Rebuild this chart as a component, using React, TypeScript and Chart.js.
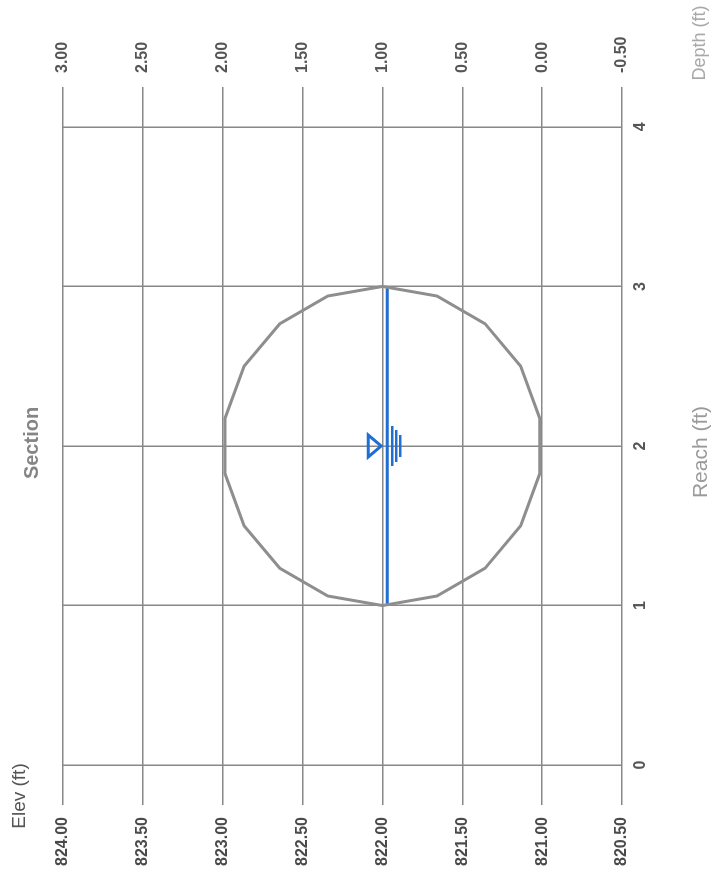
import React, { useEffect, useRef } from "react";
import { Chart, registerables } from "chart.js";

Chart.register(...registerables);

// ---- data ----
const reachTicks = [0, 1, 2, 3, 4];
const elevTicks = [820.5, 821.0, 821.5, 822.0, 822.5, 823.0, 823.5, 824.0];
const depthTicks = [-0.5, 0.0, 0.5, 1.0, 1.5, 2.0, 2.5, 3.0];

// pipe section outline (reach ft, elev ft)
const circleReach = [
  3.0, 2.94, 2.766, 2.5, 2.174, 1.826, 1.5, 1.234, 1.06, 1.0,
  1.06, 1.234, 1.5, 1.826, 2.174, 2.5, 2.766, 2.94, 3.0,
];
const circleElev = [
  822.0, 822.342, 822.643, 822.866, 822.985, 822.985, 822.866, 822.643, 822.342, 822.0,
  821.658, 821.357, 821.134, 821.015, 821.015, 821.134, 821.357, 821.658, 822.0,
];

// water surface
const waterReach = [1.0, 3.0];
const waterElev = [821.97, 821.97];
const symbolReach = 2.0;

const FONT = '"Liberation Sans", Arial, sans-serif';

const textPlugin = {
  id: "sectionText",
  afterDraw(chart: any) {
    const ctx = chart.ctx;
    const ca = chart.chartArea;
    ctx.save();
    ctx.textAlign = "center";
    ctx.textBaseline = "middle";
    ctx.fillStyle = "#858585";
    ctx.font = `bold 20px ${FONT}`;
    ctx.fillText("Section", (ca.left + ca.right) / 2 + 3, 32);
    ctx.fillStyle = "#555";
    ctx.font = `19px ${FONT}`;
    ctx.fillText("Elev (ft)", 83, 20);
    ctx.fillStyle = "#a8a8a8";
    ctx.font = `18px ${FONT}`;
    ctx.fillText("Depth (ft)", 836, 700);
    ctx.fillStyle = "#9a9a9a";
    ctx.font = `21px ${FONT}`;
    ctx.fillText("Reach (ft)", (ca.left + ca.right) / 2 - 6, 701);
    ctx.restore();
  },
};

const waterSymbolPlugin = {
  id: "waterSymbol",
  afterDatasetsDraw(chart: any) {
    const ctx = chart.ctx;
    const x = chart.scales.x.getPixelForValue(symbolReach);
    const y = chart.scales.y.getPixelForValue(waterElev[0]);
    ctx.save();
    ctx.strokeStyle = "#1f6ed4";
    ctx.lineWidth = 3;
    ctx.lineJoin = "miter";
    ctx.beginPath();
    ctx.moveTo(x - 11, y - 19);
    ctx.lineTo(x + 11, y - 19);
    ctx.lineTo(x, y - 6);
    ctx.closePath();
    ctx.stroke();
    ctx.lineWidth = 2.5;
    const lines = [
      [5, 20],
      [9, 16],
      [13, 11],
    ];
    for (const [dy, hw] of lines) {
      ctx.beginPath();
      ctx.moveTo(x - hw, y + dy);
      ctx.lineTo(x + hw, y + dy);
      ctx.stroke();
    }
    ctx.restore();
  },
};

export default function App() {
  const ref = useRef<HTMLCanvasElement | null>(null);

  useEffect(() => {
    if (!ref.current) return;
    const tickFont = { family: FONT, size: 16, weight: "bold" as const };
    const chart = new Chart(ref.current, {
      type: "scatter",
      data: {
        datasets: [
          {
            label: "Pipe",
            data: circleReach.map((r, i) => ({ x: r, y: circleElev[i] })),
            showLine: true,
            borderColor: "#8e8e8e",
            borderWidth: 3,
            pointRadius: 0,
            fill: false,
            tension: 0,
          },
          {
            label: "Water",
            data: waterReach.map((r, i) => ({ x: r, y: waterElev[i] })),
            showLine: true,
            borderColor: "#1f6ed4",
            borderWidth: 3,
            pointRadius: 0,
            fill: false,
          },
        ],
      },
      options: {
        animation: false,
        responsive: false,
        devicePixelRatio: 1,
        layout: { padding: { top: 63, left: 0, right: 0, bottom: 0 } },
        plugins: {
          legend: { display: false },
          tooltip: { enabled: false },
          title: { display: false },
        },
        scales: {
          x: {
            type: "linear",
            position: "bottom",
            min: -0.25,
            max: 4.25,
            afterBuildTicks: (s: any) => {
              s.ticks = reachTicks.map((v) => ({ value: v }));
            },
            afterFit: (s: any) => {
              s.height = 99;
            },
            grid: { color: "#888", lineWidth: 1.5, drawTicks: false },
            border: { display: false },
            ticks: {
              font: tickFont,
              color: "#555",
              padding: 9,
              maxRotation: 0,
              callback: (v: any) => String(v),
            },
          },
          y: {
            type: "linear",
            position: "left",
            min: elevTicks[0],
            max: elevTicks[elevTicks.length - 1],
            afterBuildTicks: (s: any) => {
              s.ticks = elevTicks.map((v) => ({ value: v }));
            },
            afterFit: (s: any) => {
              s.width = 74;
            },
            grid: { color: "#888", lineWidth: 1.5, drawTicks: false },
            border: { display: false },
            ticks: {
              font: tickFont,
              color: "#4a4a4a",
              padding: 12,
              callback: (v: any) => Number(v).toFixed(2),
            },
          },
          y2: {
            type: "linear",
            position: "right",
            min: depthTicks[0],
            max: depthTicks[depthTicks.length - 1],
            afterBuildTicks: (s: any) => {
              s.ticks = depthTicks.map((v) => ({ value: v }));
            },
            afterFit: (s: any) => {
              s.width = 87;
            },
            grid: { display: false, drawTicks: false },
            border: { display: false },
            ticks: {
              font: tickFont,
              color: "#555",
              padding: 14,
              callback: (v: any) => Number(v).toFixed(2),
            },
          },
        },
      },
      plugins: [waterSymbolPlugin, textPlugin],
    });
    return () => chart.destroy();
  }, []);

  return (
    <div
      style={{
        position: "fixed",
        left: 0,
        top: 0,
        width: 879,
        height: 721,
        background: "#fff",
        transformOrigin: "top left",
        transform: "translateY(879px) rotate(-90deg)",
      }}
    >
      <canvas ref={ref} width={879} height={721} style={{ width: 879, height: 721, display: "block" }} />
    </div>
  );
}
